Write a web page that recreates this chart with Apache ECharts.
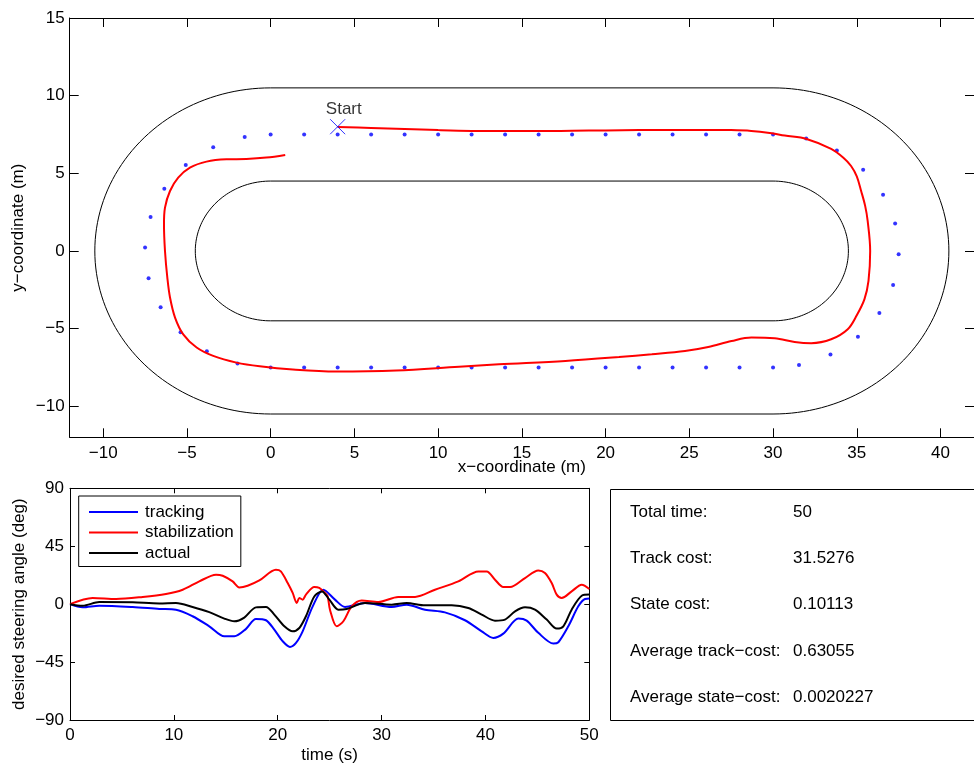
<!DOCTYPE html>
<html>
<head>
<meta charset="utf-8">
<script src="https://cdn.jsdelivr.net/npm/echarts@6/dist/echarts.min.js"></script>
<style>
  html, body { margin: 0; padding: 0; background: #ffffff; }
  #chart { width: 974px; height: 765px; }
</style>
</head>
<body>
<div id="chart"></div>
<script>
// ---- Track geometry (stadium: straights from x=0 to x=30, semicircular ends) ----
const trackStraight = [0, 30];
const trackRadii = [10.5, 4.5];          // outer and inner boundary radius (m)

// ---- Reference waypoints (m) ----
const waypointX = [
  0, 2, 4, 6, 8, 10, 12, 14, 16, 18, 20, 22, 24, 26, 28, 30,
  31.98, 33.81, 35.38, 36.57, 37.29, 37.50, 37.17, 36.35, 35.07, 33.43, 31.55,
  30, 28, 26, 24, 22, 20, 18, 16, 14, 12, 10, 8, 6, 4, 2, 0,
  -1.98, -3.81, -5.38, -6.57, -7.29, -7.50, -7.17, -6.35, -5.07, -3.43, -1.55
];
const waypointY = [
  7.5, 7.5, 7.5, 7.5, 7.5, 7.5, 7.5, 7.5, 7.5, 7.5, 7.5, 7.5, 7.5, 7.5, 7.5, 7.5,
  7.24, 6.46, 5.23, 3.62, 1.76, -0.22, -2.19, -4.00, -5.53, -6.67, -7.34,
  -7.5, -7.5, -7.5, -7.5, -7.5, -7.5, -7.5, -7.5, -7.5, -7.5, -7.5, -7.5, -7.5, -7.5, -7.5, -7.5,
  -7.24, -6.46, -5.23, -3.62, -1.76, 0.22, 2.19, 4.00, 5.53, 6.67, 7.34
];

// ---- Driven path (m) ----
const pathX = [
  4.0, 6, 8, 10, 12, 14, 16, 18, 20, 22, 24, 26, 27.5, 28.7, 29.8, 30.7, 32.0, 33.47, 34.2, 34.66,
  35.0, 35.26, 35.5, 35.65, 35.8, 35.7, 35.46, 35.0, 34.46, 33.47, 32.28, 31.29, 30.1, 28.71, 27.52,
  26.13, 24.74, 22.76, 20.8, 17.6, 13.63, 11.25, 7.5, 3.91, 1.33, -0.65, -2.04, -3.43, -4.42,
  -5.22, -5.71, -6.01, -6.17, -6.31, -6.37, -6.31, -6.01, -5.52, -4.82, -3.83, -2.64, -1.45, -0.26, 0.87
];
const pathY = [
  7.98, 7.92, 7.85, 7.78, 7.73, 7.72, 7.72, 7.74, 7.76, 7.78, 7.79, 7.79, 7.78, 7.73, 7.6, 7.43, 7.21, 6.57, 6.0, 5.47,
  4.8, 3.86, 2.9, 1.93, 0, -1.93, -3.1, -4.14, -5.04, -5.69, -5.94, -5.86, -5.62, -5.58, -5.8,
  -6.18, -6.44, -6.65, -6.83, -7.08, -7.3, -7.45, -7.7, -7.77, -7.64, -7.43, -7.19, -6.76, -6.22,
  -5.37, -4.29, -3.0, -1.72, 0, 1.72, 2.79, 3.86, 4.72, 5.36, 5.75, 5.9, 5.92, 6.01, 6.18
];
const startPoint = [4, 8];

// ---- Steering angles (deg) over time (s) ----
const trackingTime = [0, 1.22, 2.82, 6.04, 8.6, 10.2, 11.8, 13.41, 14.86, 15.82, 16.95, 17.9, 18.87, 19.67, 20.48, 21.18, 21.76, 22.4, 23.37, 24.39, 25.51, 26.48, 28.4, 30.97, 32.42, 34.18, 36.1, 38.03, 39.64, 40.76, 41.72, 43.17, 43.97, 45.09, 46.54, 47.02, 47.98, 48.94, 49.59, 50];
const trackingAngle = [0, -2.5, -1.2, -2.2, -3.7, -4.3, -9.4, -17.2, -25.0, -25.0, -19.2, -11.5, -12.5, -19.8, -28.8, -33.2, -30.1, -21.1, -1.7, 11.2, 3.5, -2.2, 0.9, -2.2, -0.4, -4.3, -6.4, -12.5, -21.1, -26.2, -22.9, -11.2, -12.8, -22.3, -30.6, -29.6, -17.2, -1.7, 4.0, 4.3];

const stabilizationTime = [0, 2.18, 4.43, 7.0, 9.24, 10.85, 12.45, 14.06, 14.7, 15.66, 16.3, 17.1, 18.23, 19.83, 20.3, 20.96, 21.44, 21.83, 22.08, 22.4, 22.72, 23.52, 24.0, 24.55, 24.81, 25.03, 25.68, 26.32, 27.12, 28.08, 29.69, 31.6, 33.22, 35.14, 37.39, 39.32, 40.12, 40.92, 41.72, 42.37, 43.81, 45.09, 45.73, 46.38, 46.86, 47.34, 48.3, 49.27, 50];
const stabilizationAngle = [0, 4.8, 4.0, 5.6, 7.9, 11.2, 17.7, 22.9, 22.1, 17.7, 13.0, 14.3, 18.4, 26.7, 25.4, 16.4, 8.7, 0.9, 4.8, 3.5, 7.4, 13.3, 12.6, 8.7, 6.0, -4.3, -17.2, -13.3, -1.7, 2.9, 1.7, 5.6, 5.6, 11.2, 17.7, 25.4, 25.4, 19.0, 13.3, 13.3, 20.3, 26.2, 24.2, 16.4, 7.4, 4.8, 9.9, 15.1, 11.8];

const actualTime = [0, 1.22, 2.82, 6.04, 8.6, 10.2, 11.8, 13.41, 14.86, 15.82, 16.78, 17.9, 18.87, 19.67, 20.64, 21.44, 22.08, 22.72, 23.52, 24.26, 24.97, 25.84, 26.64, 28.4, 30.97, 32.42, 34.18, 36.75, 38.35, 39.64, 40.92, 41.88, 42.85, 43.81, 44.77, 45.9, 46.86, 47.5, 48.3, 49.27, 50];
const actualAngle = [0, -1.2, 1.7, 1.4, 0.6, 0.9, -2.2, -6.2, -11.2, -13.3, -10.4, -2.5, -2.2, -8.1, -17.2, -21.1, -18.5, -9.4, 6.0, 9.9, 3.5, -4.3, -3.7, 0.9, -0.4, 0.9, -0.9, -0.9, -3.0, -8.1, -12.8, -12.0, -5.6, -2.5, -4.3, -12.0, -19.0, -17.2, -4.3, 6.5, 7.4];

// ---- Tick labels ----
const mapXTicks = [-10, -5, 0, 5, 10, 15, 20, 25, 30, 35, 40];
const mapYTicks = [-10, -5, 0, 5, 10, 15];
const timeTicks = [0, 10, 20, 30, 40, 50];
const angleTicks = [-90, -45, 0, 45, 90];

// ---- Summary panel ----
const statLabels = ['Total time:', 'Track cost:', 'State cost:', 'Average track\u2212cost:', 'Average state\u2212cost:'];
const statValues = ['50', '31.5276', '0.10113', '0.63055', '0.0020227'];

// ------------------------------------------------------------------
const FONT = '"Liberation Sans", Arial, Helvetica, sans-serif';
const FS = 17;
const zip = (a, b) => a.map((v, i) => [v, b[i]]);
const minusFmt = v => String(v).replace('-', '\u2212');

// Closed stadium outline of a given radius, sampled in data space
function stadium(r) {
  const pts = [];
  const [x0, x1] = trackStraight;
  const n = 90;
  pts.push([x0, r], [x1, r]);
  for (let i = 1; i <= n; i++) {
    const a = Math.PI / 2 - Math.PI * i / n;
    pts.push([x1 + r * Math.cos(a), r * Math.sin(a)]);
  }
  pts.push([x0, -r]);
  for (let i = 1; i <= n; i++) {
    const a = -Math.PI / 2 - Math.PI * i / n;
    pts.push([x0 + r * Math.cos(a), r * Math.sin(a)]);
  }
  return pts;
}

function frameAxis(base, extra) {
  return Object.assign({
    type: 'value',
    nameMoveOverlap: false,
    axisLine: { show: true, onZero: false, lineStyle: { color: '#000', width: 1 } },
    splitLine: { show: false },
    axisLabel: { color: '#000', fontSize: FS, fontFamily: FONT, formatter: minusFmt },
    nameTextStyle: { color: '#000', fontSize: FS, fontFamily: FONT }
  }, base, extra);
}

const chart = echarts.init(document.getElementById('chart'), null, { renderer: 'canvas' });

const option = {
  backgroundColor: '#ffffff',
  animation: false,
  textStyle: { fontFamily: FONT },
  grid: [
    { left: 69.7, top: 18, width: 907, height: 419.3 },
    { left: 70, top: 488.3, width: 519.3, height: 232.4 }
  ],
  xAxis: [
    frameAxis({ gridIndex: 0, position: 'bottom', min: -12, max: 42,
      name: 'x\u2212coordinate (m)', nameLocation: 'middle', nameGap: 22,
      axisTick: { show: true, inside: true, length: 9, customValues: mapXTicks, lineStyle: { color: '#000' } } },
      { axisLabel: { color: '#000', fontSize: FS, fontFamily: FONT, formatter: minusFmt, margin: 8, customValues: mapXTicks } }),
    frameAxis({ gridIndex: 0, position: 'top', min: -12, max: 42,
      axisTick: { show: true, inside: true, length: 9, customValues: mapXTicks, lineStyle: { color: '#000' } } },
      { axisLabel: { show: false } }),
    frameAxis({ gridIndex: 1, position: 'bottom', min: 0, max: 50, interval: 10,
      name: 'time (s)', nameLocation: 'middle', nameGap: 27,
      axisTick: { show: true, inside: true, length: 5, lineStyle: { color: '#000' } } },
      { axisLabel: { color: '#000', fontSize: FS, fontFamily: FONT, formatter: minusFmt, margin: 7 } }),
    frameAxis({ gridIndex: 1, position: 'top', min: 0, max: 50, interval: 10,
      axisTick: { show: true, inside: true, length: 5, lineStyle: { color: '#000' } } },
      { axisLabel: { show: false } })
  ],
  yAxis: [
    frameAxis({ gridIndex: 0, position: 'left', min: -12, max: 15,
      name: 'y\u2212coordinate (m)', nameLocation: 'middle', nameGap: 43,
      axisTick: { show: true, inside: true, length: 9, customValues: mapYTicks, lineStyle: { color: '#000' } } },
      { axisLabel: { color: '#000', fontSize: FS, fontFamily: FONT, formatter: minusFmt, margin: 5, customValues: mapYTicks } }),
    frameAxis({ gridIndex: 0, position: 'right', min: -12, max: 15,
      axisTick: { show: true, inside: true, length: 9, customValues: mapYTicks, lineStyle: { color: '#000' } } },
      { axisLabel: { show: false } }),
    frameAxis({ gridIndex: 1, position: 'left', min: -90, max: 90, interval: 45,
      name: 'desired steering angle (deg)', nameLocation: 'middle', nameGap: 42,
      axisTick: { show: true, inside: true, length: 5, lineStyle: { color: '#000' } } },
      { axisLabel: { color: '#000', fontSize: FS, fontFamily: FONT, formatter: minusFmt, margin: 6 } }),
    frameAxis({ gridIndex: 1, position: 'right', min: -90, max: 90, interval: 45,
      axisTick: { show: true, inside: true, length: 5, lineStyle: { color: '#000' } } },
      { axisLabel: { show: false } })
  ],
  legend: {
    data: ['tracking', 'stabilization', 'actual'],
    orient: 'vertical',
    left: 78.7,
    top: 496,
    icon: 'rect',
    itemWidth: 49,
    itemHeight: 2,
    itemGap: 3.5,
    padding: [7.5, 7, 5, 10.3],
    borderColor: '#000',
    borderWidth: 1,
    borderRadius: 0,
    backgroundColor: '#ffffff',
    textStyle: { color: '#000', fontSize: FS, fontFamily: FONT, padding: [0, 0, 0, 2] },
    selectedMode: false
  },
  series: [
    {
      name: 'outer boundary', type: 'line', xAxisIndex: 0, yAxisIndex: 0,
      data: stadium(trackRadii[0]), symbol: 'none', silent: true,
      lineStyle: { color: '#000', width: 1 }, z: 1
    },
    {
      name: 'inner boundary', type: 'line', xAxisIndex: 0, yAxisIndex: 0,
      data: stadium(trackRadii[1]), symbol: 'none', silent: true,
      lineStyle: { color: '#000', width: 1 }, z: 1
    },
    {
      name: 'waypoints', type: 'scatter', xAxisIndex: 0, yAxisIndex: 0,
      data: zip(waypointX, waypointY), symbol: 'circle', symbolSize: 4,
      itemStyle: { color: '#0000ff' }, silent: true, z: 2
    },
    {
      name: 'path', type: 'line', xAxisIndex: 0, yAxisIndex: 0,
      data: zip(pathX, pathY), symbol: 'none', smooth: 0.35, silent: true,
      lineStyle: { color: '#ff0000', width: 2 }, z: 3
    },
    {
      name: 'start', type: 'scatter', xAxisIndex: 0, yAxisIndex: 0,
      data: [startPoint], symbol: 'path://M0,0L10,10M10,0L0,10', symbolSize: 15,
      itemStyle: { color: 'none', borderColor: '#0000ff', borderWidth: 1 }, silent: true, z: 4,
      label: {
        show: true, formatter: 'Start', position: [-1.8, -7], align: 'left', verticalAlign: 'middle',
        color: '#000', fontSize: FS, fontFamily: FONT
      }
    },
    {
      name: 'tracking', type: 'line', xAxisIndex: 2, yAxisIndex: 2,
      data: zip(trackingTime, trackingAngle), symbol: 'none', smooth: 0.3,
      lineStyle: { color: '#0000ff', width: 2 }, itemStyle: { color: '#0000ff' }, z: 3
    },
    {
      name: 'stabilization', type: 'line', xAxisIndex: 2, yAxisIndex: 2,
      data: zip(stabilizationTime, stabilizationAngle), symbol: 'none', smooth: 0.3,
      lineStyle: { color: '#ff0000', width: 2 }, itemStyle: { color: '#ff0000' }, z: 3
    },
    {
      name: 'actual', type: 'line', xAxisIndex: 2, yAxisIndex: 2,
      data: zip(actualTime, actualAngle), symbol: 'none', smooth: 0.3,
      lineStyle: { color: '#000000', width: 2 }, itemStyle: { color: '#000000' }, z: 3
    }
  ],
  graphic: [
    {
      type: 'rect', silent: true, z: 0,
      shape: { x: 610.5, y: 489.5, width: 400, height: 231 },
      style: { fill: '#ffffff', stroke: '#000', lineWidth: 1 }
    }
  ].concat(statLabels.map((t, i) => ({
    type: 'text', silent: true, x: 630, y: 512 + i * 46.3,
    style: { text: t, fill: '#000', fontSize: FS, fontFamily: FONT, verticalAlign: 'middle', align: 'left' }
  }))).concat(statValues.map((t, i) => ({
    type: 'text', silent: true, x: 793, y: 512 + i * 46.3,
    style: { text: t, fill: '#000', fontSize: FS, fontFamily: FONT, verticalAlign: 'middle', align: 'left' }
  })))
};

chart.setOption(option);
</script>
</body>
</html>
